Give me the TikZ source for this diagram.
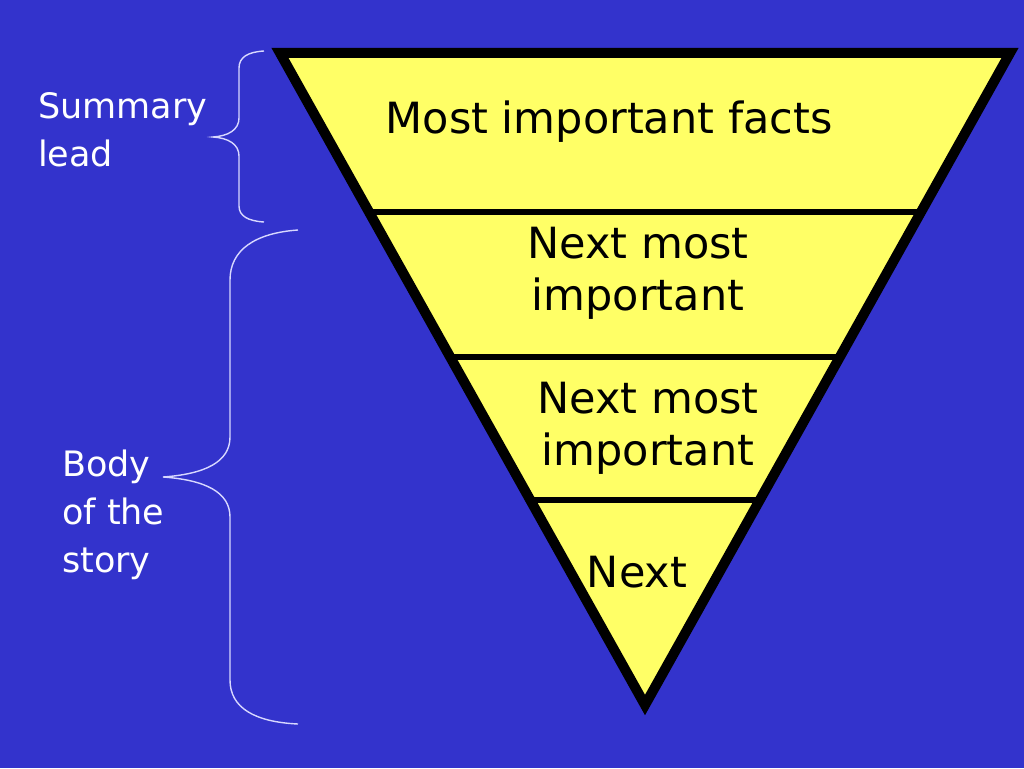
\documentclass[tikz,border=0pt]{standalone}
\usepackage{fontspec}
\setmainfont{DejaVu Sans}
\definecolor{bgblue}{HTML}{3333CC}
\definecolor{funnel}{HTML}{FFFF66}
\definecolor{bracecol}{HTML}{D8D8FF}
\begin{document}
\begin{tikzpicture}[x=1pt,y=-1pt,
  maintext/.style={font=\fontsize{43}{52}\selectfont, text=black, align=center, inner sep=0pt},
  sidetext/.style={font=\fontsize{35}{48}\selectfont, text=white, align=left, inner sep=0pt, anchor=north west},
  divider/.style={line width=6pt, black},
  bracestyle/.style={draw=bracecol, line width=1.4pt}]
\fill[bgblue] (0,0) rectangle (1024,768);
\useasboundingbox (0,0) rectangle (1024,768);
% funnel
\coordinate (tl) at (280,53);
\coordinate (tr) at (1010,53);
\coordinate (bt) at (645,705);
\fill[funnel] (tl) -- (tr) -- (bt) -- cycle;
\draw[divider] (369,212) -- (921,212);
\draw[divider] (450,357) -- (840,357);
\draw[divider] (530,500) -- (760,500);
\draw[line width=10pt, line join=miter] (tl) -- (tr) -- (bt) -- cycle;
% texts
\node[maintext] (t1) at (609,122) {Most important facts};
\node[maintext] (t2) at (638,273) {Next most\\important};
\node[maintext] (t3) at (648,428) {Next most\\important};
\node[maintext] (t4) at (637,572) {Next};
\node[sidetext] (l1) at (38,92) {Summary\\lead};
\node[sidetext] (l2) at (62,450) {Body\\of the\\story};
% braces
\draw[bracestyle] (264,51) .. controls (248,52) and (239,57) .. (239,68)
  -- (239,118) .. controls (239,130) and (228,136) .. (213,137)
  .. controls (228,138) and (239,144) .. (239,156)
  -- (239,206) .. controls (239,216) and (248,221) .. (264,222);
\draw[bracestyle] (298,230) .. controls (255,233) and (230,250) .. (230,280)
  -- (230,437) .. controls (230,462) and (205,474) .. (163,477)
  .. controls (205,480) and (230,492) .. (230,517)
  -- (230,680) .. controls (230,708) and (255,722) .. (298,724);
\end{tikzpicture}
\end{document}
